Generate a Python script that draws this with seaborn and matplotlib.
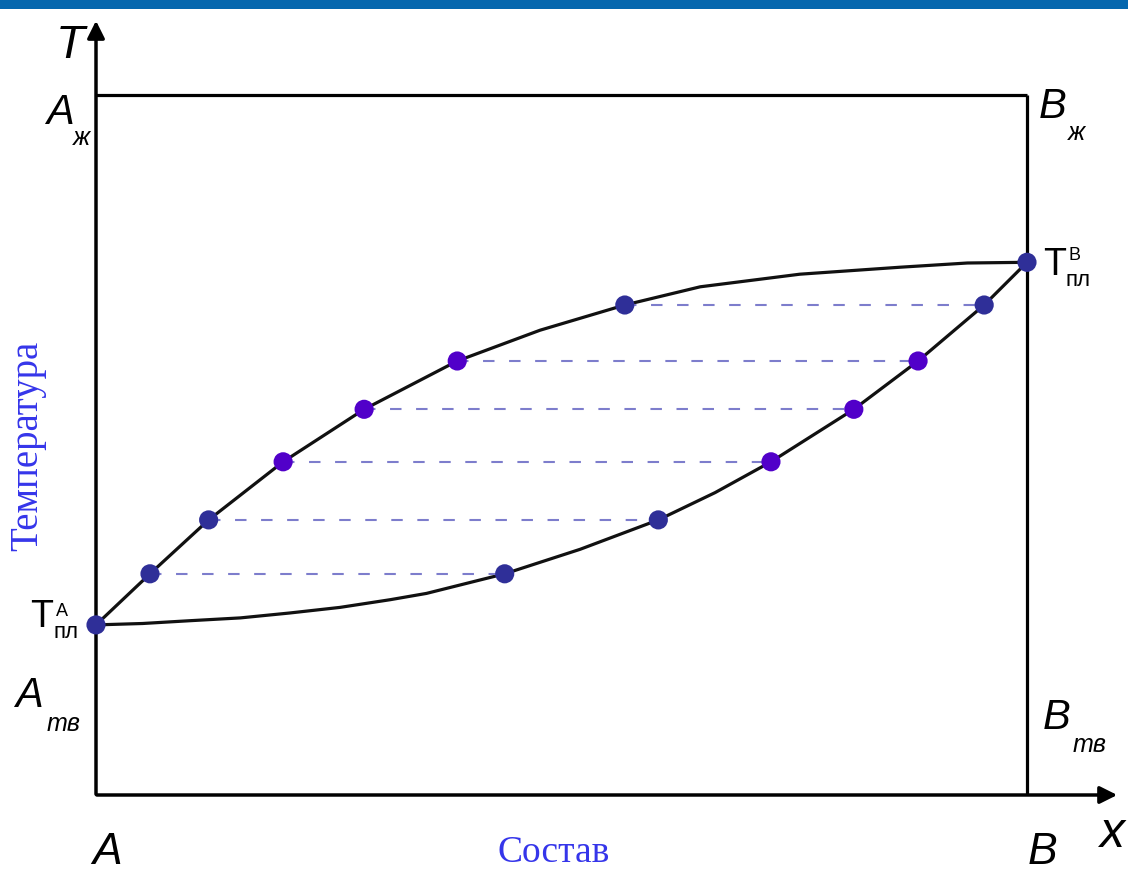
import matplotlib
matplotlib.use("Agg")
import matplotlib.pyplot as plt
import seaborn as sns
import pandas as pd

sns.set_theme(style="white")
plt.rcParams['font.family'] = ['Liberation Sans', 'DejaVu Sans']
plt.rcParams['text.color'] = 'black'

# ---- data (composition x in [0,1], temperature in relative units) ----
liquidus_x = [0.0, 0.058, 0.121, 0.201, 0.288, 0.388, 0.477, 0.568, 0.649, 0.756, 0.864, 0.936, 1.0]
liquidus_t = [0.243, 0.316, 0.393, 0.476, 0.551, 0.620, 0.664, 0.700, 0.726, 0.744, 0.754, 0.760, 0.761]
solidus_x = [0.0, 0.050, 0.101, 0.155, 0.208, 0.262, 0.316, 0.355, 0.388, 0.439, 0.520, 0.604, 0.665, 0.725, 0.814, 0.883, 0.954, 1.0]
solidus_t = [0.243, 0.245, 0.249, 0.253, 0.260, 0.268, 0.279, 0.288, 0.299, 0.316, 0.351, 0.393, 0.432, 0.476, 0.551, 0.620, 0.700, 0.761]

# tie lines: liquid side composition, solid side composition, temperature
tie_liq_x = [0.058, 0.121, 0.201, 0.288, 0.388, 0.568]
tie_sol_x = [0.439, 0.604, 0.725, 0.814, 0.883, 0.954]
tie_t = [0.316, 0.393, 0.476, 0.551, 0.620, 0.700]
tie_color = ['navy', 'navy', 'purple', 'purple', 'purple', 'navy']

melt_x = [0.0, 1.0]
melt_t = [0.243, 0.761]
top_t = 1.0

NAVY = '#2f2f98'
PURPLE = '#5100c9'
cmap = {'navy': NAVY, 'purple': PURPLE}

W, H = 1128, 875
fig = plt.figure(figsize=(W / 100, H / 100), dpi=100)
ax = fig.add_axes([0, 0, 1, 1])
x0p, x1p, y0p, y1p = 96, 1027, 795, 95
sx = x1p - x0p
sy = y0p - y1p


def X(px):
    return (px - x0p) / sx


def Y(py):
    return (y0p - py) / sy


# blue top bar
ax.add_patch(plt.Rectangle((X(0), Y(9)), X(W) - X(0), Y(0) - Y(9), color='#0567ae', lw=0, zorder=5))

# box lines
ax.plot([0, 1], [top_t, top_t], color='black', lw=2.3, solid_capstyle='butt')
ax.plot([1, 1], [0, top_t], color='black', lw=2.3, solid_capstyle='butt')
# axes arrows
ax.annotate('', xy=(0, Y(18)), xytext=(0, Y(797)),
            arrowprops=dict(arrowstyle='-|>', color='black', lw=2.5, mutation_scale=26))
ax.annotate('', xy=(X(1120), 0), xytext=(X(94), 0),
            arrowprops=dict(arrowstyle='-|>', color='black', lw=2.5, mutation_scale=26))

# curves
liq = pd.DataFrame({'x': liquidus_x, 't': liquidus_t})
sol = pd.DataFrame({'x': solidus_x, 't': solidus_t})
sns.lineplot(data=liq, x='x', y='t', ax=ax, color='#111111', lw=2.3, sort=False, estimator=None)
sns.lineplot(data=sol, x='x', y='t', ax=ax, color='#111111', lw=2.3, sort=False, estimator=None)

# tie lines
for lx, sxp, t in zip(tie_liq_x, tie_sol_x, tie_t):
    ax.plot([lx, sxp], [t, t], color='#7d7dcc', lw=1.5, dashes=(5.5, 7), zorder=2)

# points
pts = pd.DataFrame({
    'x': tie_liq_x + tie_sol_x + melt_x,
    't': tie_t + tie_t + melt_t,
    'c': tie_color + tie_color + ['navy', 'navy'],
})
sns.scatterplot(data=pts, x='x', y='t', hue='c', palette=cmap, s=190, edgecolor='none',
                ax=ax, legend=False, zorder=4)
ax.axis('off')
ax.set_xlim(-x0p / sx, (W - x0p) / sx)
ax.set_ylim(-(H - y0p) / sy, y0p / sy)

# labels
K = 'black'
ax.text(X(70), Y(46), 'T', fontsize=34, style='italic', ha='center', va='center', color=K)
ax.text(X(1112), Y(834), 'x', fontsize=36, style='italic', ha='center', va='center', color=K)
ax.text(X(60), Y(113), 'A', fontsize=30, style='italic', ha='center', va='center', color=K)
ax.text(X(82), Y(138), 'ж', fontsize=18, style='italic', ha='center', va='center', color=K)
ax.text(X(1053), Y(107), 'B', fontsize=30, style='italic', ha='center', va='center', color=K)
ax.text(X(1077), Y(133), 'ж', fontsize=18, style='italic', ha='center', va='center', color=K)
ax.text(X(29), Y(696), 'A', fontsize=30, style='italic', ha='center', va='center', color=K)
ax.text(X(64), Y(724), 'тв', fontsize=18, style='italic', ha='center', va='center', color=K)
ax.text(X(1057), Y(718), 'B', fontsize=30, style='italic', ha='center', va='center', color=K)
ax.text(X(1090), Y(745), 'тв', fontsize=18, style='italic', ha='center', va='center', color=K)
ax.text(X(107), Y(853), 'A', fontsize=32, style='italic', ha='center', va='center', color=K)
ax.text(X(1042), Y(853), 'B', fontsize=32, style='italic', ha='center', va='center', color=K)

ax.text(X(42), Y(617), 'T', fontsize=27, ha='center', va='center', color=K)
ax.text(X(62), Y(612), 'A', fontsize=13, ha='center', va='center', color=K)
ax.text(X(66), Y(633), 'пл', fontsize=16, ha='center', va='center', color=K)
ax.text(X(1055), Y(265), 'T', fontsize=27, ha='center', va='center', color=K)
ax.text(X(1074), Y(256), 'B', fontsize=13, ha='center', va='center', color=K)
ax.text(X(1078), Y(280), 'пл', fontsize=16, ha='center', va='center', color=K)

ax.text(X(28), Y(446), 'Температура', fontsize=28, family='Liberation Serif', color='#3535ea',
        rotation=90, ha='center', va='center')
ax.text(X(554), Y(853), 'Состав', fontsize=27, family='Liberation Serif', color='#3535ea',
        ha='center', va='center')

fig.savefig('out.png', dpi=100, facecolor='white')
